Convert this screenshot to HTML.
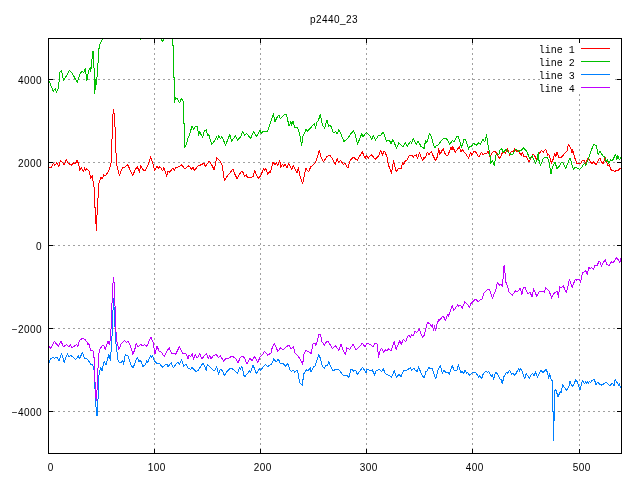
<!DOCTYPE html>
<html><head><meta charset="utf-8"><title>p2440_23</title>
<style>html,body{margin:0;padding:0;background:#fff;}svg{display:block;}text{font-family:"Liberation Sans",sans-serif;font-size:10px;fill:#000;}.k{font-family:"Liberation Mono",monospace;font-size:10px;}</style></head><body>
<svg width="640" height="480" viewBox="0 0 640 480">
<rect x="0" y="0" width="640" height="480" fill="#ffffff"/>
<defs><clipPath id="c"><rect x="48" y="38" width="574" height="416"/></clipPath><filter id="g" x="0" y="0" width="640" height="480" filterUnits="userSpaceOnUse"><feOffset dx="0" dy="0"/></filter></defs>
<g stroke="#a0a0a0" stroke-width="1" stroke-dasharray="2 3" shape-rendering="crispEdges" fill="none">
<line x1="48" y1="79.5" x2="540" y2="79.5"/>
<line x1="615" y1="79.5" x2="622" y2="79.5"/>
<line x1="48" y1="162.5" x2="622" y2="162.5"/>
<line x1="48" y1="245.5" x2="622" y2="245.5"/>
<line x1="48" y1="328.5" x2="622" y2="328.5"/>
<line x1="48" y1="411.5" x2="622" y2="411.5"/>
<line x1="154.5" y1="38" x2="154.5" y2="454"/>
<line x1="260.5" y1="38" x2="260.5" y2="454"/>
<line x1="366.5" y1="38" x2="366.5" y2="454"/>
<line x1="472.5" y1="38" x2="472.5" y2="454"/>
<line x1="579.5" y1="38" x2="579.5" y2="43"/>
<line x1="579.5" y1="94" x2="579.5" y2="454"/>
</g>
<g stroke="#000" stroke-width="1" shape-rendering="crispEdges" fill="none">
<line x1="48" y1="79.5" x2="53" y2="79.5"/>
<line x1="617" y1="79.5" x2="622" y2="79.5"/>
<line x1="48" y1="162.5" x2="53" y2="162.5"/>
<line x1="617" y1="162.5" x2="622" y2="162.5"/>
<line x1="48" y1="245.5" x2="53" y2="245.5"/>
<line x1="617" y1="245.5" x2="622" y2="245.5"/>
<line x1="48" y1="328.5" x2="53" y2="328.5"/>
<line x1="617" y1="328.5" x2="622" y2="328.5"/>
<line x1="48" y1="411.5" x2="53" y2="411.5"/>
<line x1="617" y1="411.5" x2="622" y2="411.5"/>
<line x1="154.5" y1="449" x2="154.5" y2="454"/>
<line x1="154.5" y1="38" x2="154.5" y2="43"/>
<line x1="260.5" y1="449" x2="260.5" y2="454"/>
<line x1="260.5" y1="38" x2="260.5" y2="43"/>
<line x1="366.5" y1="449" x2="366.5" y2="454"/>
<line x1="366.5" y1="38" x2="366.5" y2="43"/>
<line x1="472.5" y1="449" x2="472.5" y2="454"/>
<line x1="472.5" y1="38" x2="472.5" y2="43"/>
<line x1="579.5" y1="449" x2="579.5" y2="454"/>
<line x1="579.5" y1="38" x2="579.5" y2="43"/>
</g>
<g clip-path="url(#c)" fill="none" stroke-width="1" shape-rendering="crispEdges" stroke-linejoin="round">
<polyline stroke="#ff0000" points="48.9,167.5 50.9,168.0 53.3,163.3 54.8,165.3 56.9,162.5 58.8,166.4 60.6,160.2 64.2,164.8 66.2,159.7 68.1,163.3 72.0,165.3 73.6,162.5 75.2,164.1 77.2,160.2 78.8,164.8 79.8,170.3 81.4,167.2 83.4,171.9 84.5,168.0 85.6,170.3 86.9,168.8 89.4,171.2 90.5,178.4 92.5,175.6 93.6,186.6 94.4,188.1 94.7,206.9 95.6,208.4 96.2,231.1 96.9,219.4 97.5,198.3 98.3,197.5 99.0,183.4 100.9,177.5 102.2,179.0 103.8,174.8 105.3,175.6 106.9,173.8 109.5,168.8 111.1,162.5 111.9,142.2 112.7,117.2 113.4,109.4 114.4,115.6 115.3,132.8 116.2,157.8 117.3,168.8 118.5,171.0 119.4,175.9 120.6,171.7 123.3,167.0 125.4,167.0 127.5,164.4 129.5,168.6 132.7,175.6 135.0,170.2 137.3,166.6 139.4,172.2 140.8,165.9 143.6,170.6 145.2,170.2 147.5,166.2 148.6,163.6 150.6,156.6 152.2,161.2 154.8,170.3 156.9,166.2 158.4,168.3 160.0,166.7 162.7,170.9 163.8,167.5 166.6,176.1 167.8,171.4 169.4,172.2 172.8,168.3 174.1,170.3 175.9,167.5 179.1,166.7 181.4,164.7 185.0,169.1 188.8,165.6 191.6,169.1 192.8,167.2 194.4,170.3 198.6,165.2 200.2,165.2 204.1,163.1 205.3,166.7 207.2,163.6 209.5,161.2 212.2,165.9 214.2,169.8 216.6,157.8 219.7,160.5 222.0,164.7 224.4,180.3 226.7,176.9 233.0,169.1 234.7,173.8 237.0,178.4 240.9,171.9 242.5,171.4 244.8,176.6 246.1,174.5 247.5,177.7 253.1,176.9 254.7,170.6 256.9,176.1 258.9,178.4 261.2,174.5 263.6,168.8 264.7,170.3 265.9,168.3 267.8,174.5 269.4,171.9 270.3,173.0 273.0,162.0 275.0,165.2 276.1,162.8 277.7,165.2 279.7,160.5 280.8,167.5 282.3,164.1 283.9,166.2 285.0,164.1 287.0,167.5 288.6,163.6 291.7,169.1 293.3,165.9 296.9,173.0 298.4,167.5 300.3,177.7 302.7,183.4 305.8,168.3 307.3,170.3 308.9,171.4 310.5,167.2 315.2,162.8 316.7,158.9 319.4,150.3 321.4,158.1 323.4,162.0 326.9,156.6 329.7,155.2 331.7,157.5 335.2,164.5 337.2,158.8 338.8,162.5 340.3,160.3 343.4,164.5 345.0,163.0 347.8,168.1 350.5,159.8 353.6,157.2 357.2,160.3 362.2,151.6 365.3,158.8 366.1,155.2 368.1,158.3 370.0,156.2 371.9,154.8 375.2,159.4 378.8,155.6 380.6,150.6 382.5,155.0 383.8,151.2 385.0,151.9 386.9,156.9 388.5,165.0 391.5,173.5 393.5,160.6 396.2,171.5 398.1,169.0 400.2,168.1 401.0,169.0 402.8,162.5 403.5,164.4 405.2,161.2 406.9,160.0 409.4,155.2 411.9,155.2 413.1,157.5 414.4,155.6 416.2,154.8 417.5,158.8 419.4,152.8 422.5,160.6 424.0,157.5 424.8,158.8 427.5,152.2 428.8,155.0 431.2,151.5 432.5,154.4 435.6,160.6 437.2,157.2 438.8,148.8 440.0,154.4 443.1,148.5 445.6,155.0 448.1,155.0 450.9,147.2 452.2,149.8 452.7,146.7 455.3,152.2 459.2,146.7 460.8,151.9 462.3,149.8 465.5,153.4 468.6,158.1 470.6,152.2 471.7,155.3 473.8,151.4 475.3,151.4 478.8,156.9 481.6,152.2 483.1,154.5 485.0,153.0 486.6,153.8 488.1,151.4 490.0,156.9 491.6,153.8 493.6,151.4 495.6,151.9 497.5,155.3 499.8,158.8 501.9,153.8 503.9,151.4 505.5,153.0 507.5,148.3 509.7,155.3 511.2,151.9 513.3,151.9 514.8,148.3 516.9,152.2 518.0,150.3 521.1,155.3 522.2,152.2 524.2,156.9 525.8,156.1 528.9,161.6 531.2,157.7 533.1,153.8 535.2,156.9 536.7,160.0 539.1,153.8 541.4,150.3 543.4,152.2 545.6,149.1 547.7,155.3 548.8,154.5 551.6,163.4 553.4,158.4 554.7,153.0 555.9,156.9 557.0,152.2 559.1,158.1 561.7,156.9 567.2,150.6 568.4,144.4 571.1,149.1 571.9,153.0 572.7,149.8 575.0,158.4 576.6,163.1 580.5,163.9 582.8,160.0 584.4,160.8 585.6,163.9 587.5,158.8 589.4,160.0 591.9,163.8 593.5,161.9 596.2,165.0 598.1,160.6 599.8,158.1 601.9,162.5 603.1,163.8 605.0,157.5 606.9,163.1 608.1,165.6 609.4,165.0 611.2,170.0 613.1,170.0 614.4,171.9 616.2,170.6 618.1,171.0 620.0,168.1 621.0,168.1"/>
<polyline stroke="#00c000" points="48.9,80.8 50.6,84.7 53.3,91.2 55.2,88.6 56.4,92.5 58.3,88.6 60.0,72.2 61.6,70.3 63.4,80.3 65.8,76.9 69.4,70.3 72.0,73.0 77.2,82.3 80.6,72.5 82.5,71.4 83.8,73.0 85.3,68.3 86.9,80.3 88.8,70.3 90.3,67.5 90.8,71.4 92.8,51.1 93.6,52.0 94.7,93.3 95.5,86.0 95.5,79.0 96.5,84.5 96.5,78.0 97.4,76.5 98.6,50.3 100.2,43.3 102.5,39.0 104.0,34.0 139.6,34.0 140.6,39.9 141.6,34.0 160.6,36.5 162.5,42.0 164.4,36.5 172.5,34.0 172.5,45.5 173.5,46.0 173.5,77.5 174.5,78.0 174.5,102.5 175.6,97.5 177.5,99.1 179.4,103.0 181.4,98.8 183.4,101.4 183.8,123.3 184.7,124.0 184.7,147.5 186.1,145.2 187.7,138.9 189.7,134.2 191.9,126.4 193.9,129.5 195.5,126.4 197.5,126.4 198.6,135.8 199.7,131.9 202.5,137.3 204.4,131.1 206.4,129.5 207.5,135.8 208.8,134.7 211.6,144.4 213.4,142.8 216.6,136.6 217.3,139.7 218.9,135.8 220.5,138.9 222.0,136.6 225.5,145.2 229.8,134.7 231.6,141.1 235.5,135.9 237.5,140.3 240.9,136.4 242.5,131.2 244.8,135.3 246.4,133.3 250.8,138.4 253.4,131.7 256.6,136.4 260.0,130.6 261.2,133.3 263.6,131.2 267.5,131.2 270.9,121.6 273.4,113.8 275.0,121.6 276.9,117.7 278.8,115.0 280.3,118.8 283.1,115.6 286.2,114.1 289.1,125.9 290.9,121.6 291.7,125.5 293.0,120.8 294.8,127.8 297.5,127.8 299.5,133.3 301.6,145.8 303.1,135.6 306.1,129.4 307.7,131.2 314.4,123.4 315.6,128.6 316.7,122.3 318.3,120.8 320.3,114.5 322.3,124.7 324.7,128.1 327.0,119.7 328.6,126.2 330.6,125.5 333.3,132.5 335.6,131.7 337.2,134.1 338.8,129.7 341.1,134.1 343.8,141.6 347.3,138.8 351.2,133.3 353.6,130.6 355.6,135.9 357.5,144.2 361.9,133.3 363.0,136.9 366.4,132.5 370.0,135.6 371.6,140.0 373.1,135.6 375.5,140.0 378.6,135.3 380.2,135.6 383.3,132.2 386.4,141.1 389.5,140.3 391.1,144.2 392.7,139.5 396.6,148.1 398.9,142.7 402.8,146.9 405.2,142.7 407.2,146.2 410.6,141.1 411.6,143.6 413.4,138.4 416.2,144.7 418.1,141.2 420.9,146.2 424.1,148.3 425.6,140.5 426.9,142.5 429.5,133.4 431.1,135.8 433.4,144.4 435.0,148.3 436.6,145.2 438.1,145.2 442.0,139.7 444.4,138.1 446.7,138.9 449.8,144.4 452.2,140.5 454.1,142.0 456.9,136.2 458.4,136.9 461.6,147.5 463.9,139.7 465.5,139.4 468.6,149.1 470.2,146.2 471.7,146.2 473.3,143.1 476.4,145.2 478.8,142.5 480.3,144.1 483.1,139.4 484.7,142.0 486.6,135.0 488.1,145.6 489.7,153.0 490.8,163.9 492.3,160.0 494.4,165.5 495.9,155.3 497.2,153.4 498.8,154.5 500.0,149.8 501.6,148.3 503.1,152.5 506.2,149.1 508.1,151.9 510.9,154.5 513.3,153.8 515.6,149.1 518.8,151.4 521.1,150.3 523.8,147.8 526.6,151.4 528.6,155.8 529.9,158.8 532.2,155.5 534.1,160.6 535.5,163.1 536.9,161.0 538.3,152.2 538.9,160.2 540.4,165.4 543.4,158.4 546.9,156.9 548.8,160.8 550.3,170.2 551.1,174.1 552.3,167.0 555.0,162.3 557.0,168.6 558.6,167.0 561.7,162.3 563.3,163.1 565.6,168.6 570.0,157.7 573.4,169.4 575.3,167.0 579.7,169.4 582.0,167.0 584.4,163.1 585.9,165.5 589.0,156.9 593.5,144.4 596.2,145.6 598.1,154.4 600.2,151.2 601.9,154.4 603.1,156.2 604.8,156.9 605.6,161.2 607.5,160.0 608.8,163.8 610.6,160.0 612.5,160.6 615.6,154.4 616.9,160.0 617.8,155.6 619.4,160.0 621.0,156.9"/>
<polyline stroke="#0080ff" points="48.9,362.7 50.9,358.4 53.3,357.2 54.8,358.4 56.9,356.9 59.0,361.1 61.6,353.3 64.2,362.2 67.3,353.8 68.9,357.2 70.5,355.3 75.9,359.5 78.3,355.6 79.4,358.8 82.5,352.5 84.5,358.0 87.7,359.5 90.8,364.2 92.3,364.2 93.9,368.1 94.7,383.0 95.9,405.6 97.0,416.0 98.3,394.7 98.9,376.0 100.4,367.4 102.0,370.5 104.1,361.6 105.9,365.0 108.8,354.8 110.3,360.3 111.6,345.0 112.3,330.0 113.4,298.9 114.4,312.0 115.5,338.8 116.6,349.4 118.1,360.3 118.9,362.2 121.2,362.7 122.8,360.3 123.6,364.7 125.2,354.4 128.3,356.4 131.4,366.6 133.4,367.3 135.6,361.1 137.3,357.0 138.9,361.7 140.5,360.2 142.8,366.4 145.2,364.8 146.7,360.9 147.5,362.8 150.3,355.9 151.4,357.8 152.5,355.5 154.1,360.6 156.9,363.3 159.2,363.3 162.3,367.2 165.5,364.8 167.0,363.8 168.1,366.9 171.2,362.5 173.3,368.0 175.9,364.1 178.0,362.5 179.5,364.4 181.6,359.7 183.8,366.4 185.8,364.1 188.1,368.0 190.5,369.5 192.0,367.2 195.9,371.6 198.3,370.3 200.6,366.4 203.0,363.3 205.0,366.9 206.1,370.3 207.2,364.8 209.2,366.4 213.1,370.3 215.0,370.3 216.6,366.4 218.6,374.7 220.2,369.5 222.2,370.3 224.4,375.3 227.2,371.1 230.3,368.4 232.3,368.8 234.7,370.8 237.5,373.1 239.7,367.7 240.6,369.2 241.7,366.1 244.4,377.0 247.2,373.9 249.5,370.8 250.6,372.3 253.1,365.3 256.6,373.9 259.4,368.8 260.9,370.3 263.1,366.9 265.6,364.5 267.5,366.9 269.4,365.3 271.4,364.5 273.8,358.8 276.1,362.2 278.4,359.1 280.0,363.0 283.1,363.4 285.5,366.1 287.8,363.8 289.7,369.2 291.2,371.6 293.3,370.0 294.8,372.3 297.2,370.0 298.4,373.9 299.5,382.5 302.2,385.3 303.8,373.9 306.6,369.7 308.1,370.8 310.5,367.7 310.9,371.6 313.6,366.9 315.2,366.1 316.7,360.9 318.8,354.4 320.6,359.1 322.3,366.6 324.4,368.1 326.2,365.0 327.5,365.8 328.6,361.6 331.7,368.9 333.3,370.9 335.6,369.4 338.4,369.4 341.1,372.5 343.1,375.2 346.9,375.2 348.9,377.2 351.2,368.9 353.6,371.2 355.6,370.5 357.5,374.4 362.5,367.3 366.1,372.5 366.9,368.9 370.8,370.9 372.3,369.7 374.4,375.2 375.9,371.2 378.6,369.4 381.7,371.2 383.3,368.9 385.3,373.6 388.8,375.2 391.6,377.5 394.2,370.5 396.6,377.5 398.9,374.4 400.9,376.7 403.6,370.5 406.7,370.5 410.6,367.3 411.6,370.9 413.4,368.1 415.5,370.2 417.0,371.7 418.6,367.0 421.7,374.8 424.4,378.0 425.6,371.7 426.9,371.2 428.8,367.5 430.6,368.6 432.2,368.1 433.8,373.3 435.8,378.8 438.1,369.4 440.2,365.5 442.5,373.3 443.6,370.2 445.9,372.5 447.5,372.2 449.4,374.1 452.2,365.5 454.1,370.2 456.9,370.2 458.4,364.7 460.8,372.5 462.3,371.2 463.9,373.8 465.0,370.2 466.6,373.3 467.5,372.2 469.1,375.3 472.5,372.8 475.6,372.5 478.8,377.2 479.5,375.6 481.6,378.8 483.4,373.3 485.8,371.2 487.3,372.5 488.9,371.7 491.2,376.4 492.5,374.8 493.6,379.1 495.6,372.2 497.5,374.1 500.0,378.9 501.2,379.7 502.3,383.6 503.9,376.6 506.2,372.7 507.5,373.4 509.4,370.3 511.7,374.2 513.3,373.4 514.8,375.8 516.4,372.7 518.8,368.4 519.5,371.1 520.3,368.0 522.7,372.7 524.7,378.9 526.2,373.4 529.4,378.4 531.2,375.0 532.8,373.4 534.1,375.8 535.6,371.9 537.5,377.3 540.9,370.3 543.0,372.7 546.1,369.1 547.7,373.4 548.8,378.1 549.7,373.4 550.8,378.9 552.5,381.2 552.5,411.0 553.5,411.5 553.5,440.5 553.5,420.0 554.5,420.0 554.5,392.0 555.5,389.1 556.6,392.2 558.1,396.9 560.2,391.4 561.2,393.0 562.5,384.4 566.4,390.3 568.8,386.7 570.0,381.2 572.2,386.7 573.4,385.2 575.8,379.7 577.3,382.0 580.0,389.8 582.5,380.6 584.4,384.0 585.5,382.0 586.5,383.2 587.5,381.8 588.5,383.0 589.5,381.5 590.5,382.5 591.9,380.6 594.4,379.6 596.2,385.0 597.5,382.2 599.4,383.8 601.2,385.2 603.8,383.8 606.2,382.2 608.8,385.0 610.6,385.0 612.5,383.1 614.0,386.2 615.2,379.4 616.9,382.2 618.5,385.0 619.4,383.1 620.6,388.1"/>
<polyline stroke="#c000ff" points="48.9,346.2 50.6,348.1 54.4,341.6 58.4,346.2 61.1,341.2 63.4,347.0 66.6,344.4 68.9,347.0 70.5,345.0 72.0,347.5 76.7,344.7 77.8,347.0 79.5,340.3 81.9,338.8 84.7,339.1 87.3,342.7 87.7,344.7 88.8,343.4 90.8,350.9 93.1,350.9 94.4,360.3 95.0,382.2 96.2,400.9 97.6,383.0 98.3,357.2 99.7,349.6 101.9,346.1 103.8,345.0 105.3,349.4 107.9,341.3 109.2,344.5 110.5,339.0 111.6,318.4 112.3,291.9 113.4,277.8 114.4,284.8 115.0,305.9 115.9,330.9 117.0,342.0 118.9,349.4 121.2,343.9 124.4,340.6 126.4,342.2 128.4,341.6 130.3,345.5 133.0,354.4 135.0,348.6 136.1,343.6 138.1,347.0 140.0,344.7 140.9,344.5 142.8,346.1 144.7,344.5 146.7,346.1 148.3,343.4 149.4,339.8 151.1,337.2 153.0,342.2 155.0,353.9 156.9,346.1 159.2,351.2 161.6,352.3 164.4,357.0 166.2,352.3 169.1,347.7 171.7,353.9 173.8,353.1 175.6,354.4 179.5,346.6 182.7,353.9 185.8,353.4 188.1,358.6 188.9,355.5 190.9,356.2 192.5,353.9 193.6,359.7 195.2,354.7 197.2,358.1 199.8,353.9 201.9,359.1 203.8,356.2 206.6,353.1 208.1,358.6 209.7,355.5 211.2,359.1 213.1,355.5 216.2,354.7 218.6,357.5 220.2,355.5 223.8,361.2 225.6,358.6 228.0,358.6 231.1,356.6 233.1,356.7 235.5,358.3 238.1,363.0 240.2,357.5 242.8,356.2 244.8,358.3 246.9,364.1 250.0,358.3 251.9,360.6 254.7,356.7 256.2,359.1 257.8,363.0 260.0,356.7 262.8,354.4 264.4,351.2 267.8,355.2 270.9,353.1 272.5,346.6 274.5,343.4 276.1,347.3 277.7,351.2 280.8,347.8 283.1,349.7 285.5,347.3 289.1,345.0 291.2,348.9 293.3,346.6 294.8,352.5 297.2,355.2 299.5,358.3 302.7,364.5 303.8,354.1 305.8,350.5 307.8,351.2 311.2,353.6 312.8,344.2 315.2,343.4 315.8,346.0 317.5,340.3 318.8,334.8 320.6,334.8 321.9,341.6 324.4,345.5 325.9,342.3 327.8,341.2 330.2,344.7 332.5,348.6 335.6,345.9 338.8,350.2 341.1,343.9 343.4,350.9 345.3,354.8 346.9,347.8 349.7,349.4 353.1,343.9 355.9,350.2 359.8,346.2 362.5,343.1 365.0,347.0 366.9,342.8 370.8,345.0 373.1,347.0 374.7,343.4 377.0,343.9 378.6,357.2 380.2,350.2 381.7,348.1 383.8,352.5 385.6,349.4 386.9,351.2 388.8,348.6 391.1,351.2 394.2,341.6 396.2,349.4 399.7,340.8 401.3,344.2 403.4,339.4 405.9,341.6 407.5,336.6 408.8,335.3 410.6,337.2 411.6,334.5 413.1,336.2 415.0,331.6 416.9,332.5 419.4,328.4 420.6,333.1 422.5,337.5 424.4,335.0 425.6,330.0 427.5,322.5 429.4,323.4 431.6,326.2 432.5,324.7 433.4,330.6 434.4,325.6 435.6,330.6 436.9,324.4 438.8,319.4 439.7,320.3 442.5,316.2 443.6,316.7 445.6,320.6 447.5,314.4 448.3,316.7 452.2,305.3 453.8,310.5 457.7,304.7 458.4,306.6 460.3,305.0 462.3,308.1 464.7,301.9 467.0,303.8 469.4,307.3 470.9,303.8 472.5,301.9 475.6,299.1 478.0,301.6 480.0,300.0 481.9,299.5 483.8,293.3 487.3,289.7 489.4,289.4 492.5,298.4 494.4,292.5 495.6,291.7 497.2,282.8 499.8,285.5 500.9,283.9 502.2,286.2 503.0,279.2 503.4,268.3 504.5,265.2 505.6,281.6 507.2,285.5 509.2,292.5 512.2,295.3 515.6,290.6 517.2,291.6 520.3,288.4 521.9,294.7 523.4,287.2 525.0,287.5 527.8,293.8 530.0,291.9 532.0,296.9 533.6,288.8 536.7,296.2 539.1,291.9 541.4,291.9 543.0,291.1 544.5,292.7 545.6,287.5 549.2,291.1 551.6,298.1 553.9,293.4 557.0,291.1 558.6,297.3 559.4,286.9 560.9,288.0 563.3,285.6 565.0,290.0 566.5,292.5 569.4,279.4 572.2,287.2 575.2,279.4 576.9,280.2 578.8,279.0 580.6,282.5 582.5,272.5 584.4,271.9 585.6,270.6 587.2,274.4 589.0,267.5 590.0,269.0 591.5,267.5 593.5,269.4 595.0,265.2 597.2,265.6 599.0,261.2 600.0,261.9 601.5,266.2 603.1,263.1 605.2,259.4 606.9,264.4 609.4,265.6 611.2,261.9 613.1,263.1 616.2,257.5 618.1,259.4 619.8,262.5 621.0,258.1"/>
</g>
<rect x="48.5" y="38.5" width="573" height="415" fill="none" stroke="#000" stroke-width="1" shape-rendering="crispEdges"/>
<line x1="581" y1="48.5" x2="610" y2="48.5" stroke="#ff0000" stroke-width="1" shape-rendering="crispEdges"/>
<line x1="581" y1="61.5" x2="610" y2="61.5" stroke="#00c000" stroke-width="1" shape-rendering="crispEdges"/>
<line x1="581" y1="74.5" x2="610" y2="74.5" stroke="#0080ff" stroke-width="1" shape-rendering="crispEdges"/>
<line x1="581" y1="87.5" x2="610" y2="87.5" stroke="#c000ff" stroke-width="1" shape-rendering="crispEdges"/>
<g filter="url(#g)">
<text class="k" x="538.7" y="52.75">line 1</text>
<text class="k" x="538.7" y="65.75">line 2</text>
<text class="k" x="538.7" y="78.75">line 3</text>
<text class="k" x="538.7" y="91.75">line 4</text>
<text x="334" y="23" text-anchor="middle" letter-spacing="0.44">p2440_23</text>
<text x="42" y="83.5" text-anchor="end" letter-spacing="0.44">4000</text>
<text x="42" y="166.5" text-anchor="end" letter-spacing="0.44">2000</text>
<text x="42" y="249.5" text-anchor="end" letter-spacing="0.44">0</text>
<text x="42" y="332.5" text-anchor="end" letter-spacing="0.44">−2000</text>
<text x="42" y="415.5" text-anchor="end" letter-spacing="0.44">−4000</text>
<text x="50.7" y="470.5" text-anchor="middle" letter-spacing="0.44">0</text>
<text x="156.7" y="470.5" text-anchor="middle" letter-spacing="0.44">100</text>
<text x="262.7" y="470.5" text-anchor="middle" letter-spacing="0.44">200</text>
<text x="368.7" y="470.5" text-anchor="middle" letter-spacing="0.44">300</text>
<text x="474.7" y="470.5" text-anchor="middle" letter-spacing="0.44">400</text>
<text x="581.7" y="470.5" text-anchor="middle" letter-spacing="0.44">500</text>
</g>
</svg></body></html>
